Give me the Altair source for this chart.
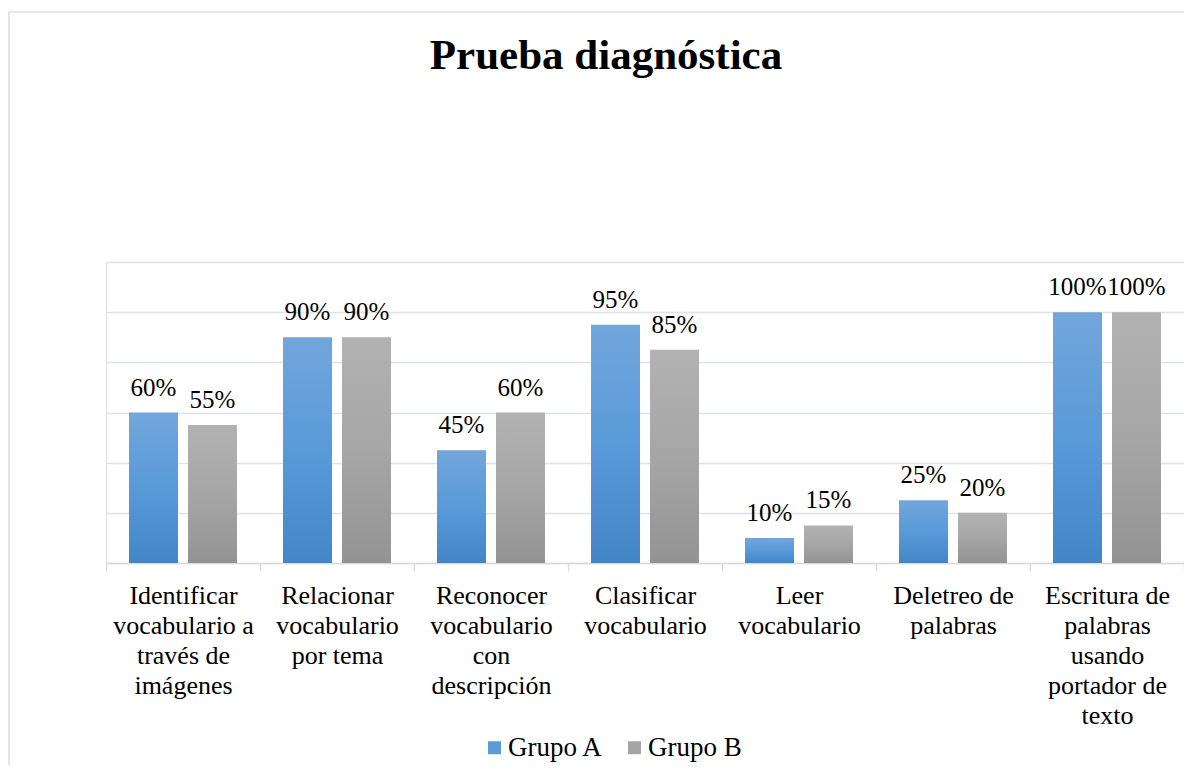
import altair as alt
import pandas as pd

categories = [
    "Identificar\nvocabulario a\ntravés de\nimágenes",
    "Relacionar\nvocabulario\npor tema",
    "Reconocer\nvocabulario\ncon\ndescripción",
    "Clasificar\nvocabulario",
    "Leer\nvocabulario",
    "Deletreo de\npalabras",
    "Escritura de\npalabras\nusando\nportador de\ntexto",
]
grupo_a = [0.60, 0.90, 0.45, 0.95, 0.10, 0.25, 1.00]
grupo_b = [0.55, 0.90, 0.60, 0.85, 0.15, 0.20, 1.00]
groups = ["Grupo A", "Grupo B"]
y_ticks = [0, 0.2, 0.4, 0.6, 0.8, 1.0, 1.2]

rows = []
for c, a, b in zip(categories, grupo_a, grupo_b):
    rows.append({"cat": c, "group": groups[0], "value": a})
    rows.append({"cat": c, "group": groups[1], "value": b})
df = pd.DataFrame(rows)

FONT = "Liberation Serif"
GRID = "#dfe2e7"

grad_a = {"gradient": "linear", "x1": 0, "y1": 0, "x2": 0, "y2": 1,
          "stops": [{"offset": 0, "color": "#72a6db"},
                    {"offset": 0.5, "color": "#599ad9"},
                    {"offset": 1, "color": "#4386c6"}]}
grad_b = {"gradient": "linear", "x1": 0, "y1": 0, "x2": 0, "y2": 1,
          "stops": [{"offset": 0, "color": "#b2b2b2"},
                    {"offset": 0.5, "color": "#a6a6a6"},
                    {"offset": 1, "color": "#939393"}]}

x_enc = alt.X(
    "cat:N", sort=categories,
    scale=alt.Scale(paddingInner=0, paddingOuter=0),
    axis=alt.Axis(
        title=None, labelExpr="split(datum.label, '\\n')", labelAngle=0,
        labelFont=FONT, labelFontSize=26, labelLineHeight=30, labelColor="#000",
        labelPadding=11, labelLimit=400, labelOverlap=False,
        tickBand="extent", tickSize=8, tickColor="#d9d9d9", tickWidth=1.3,
        domainColor="#d9d9d9", domainWidth=1.3, grid=False,
    ),
)
xo_enc = alt.XOffset("group:N", sort=groups,
                     scale=alt.Scale(paddingInner=0.1695, paddingOuter=0.39))
y_enc = alt.Y(
    "value:Q",
    scale=alt.Scale(domain=[0, 1.2], nice=False),
    axis=alt.Axis(title=None, values=y_ticks, labels=False, ticks=False,
                  domain=False, grid=True, gridColor=GRID, gridWidth=1.3),
)

base = alt.Chart(df)

bars = base.mark_bar().encode(
    x=x_enc, xOffset=xo_enc, y=y_enc,
    color=alt.when(alt.datum.group == groups[0]).then(alt.value(grad_a)).otherwise(alt.value(grad_b)),
)

labels = base.mark_text(baseline="alphabetic", dy=-17, font=FONT, fontSize=25, color="#000").encode(
    x=x_enc, xOffset=xo_enc, y=y_enc,
    text=alt.Text("value:Q", format=".0%"),
)

legend_layer = base.mark_square(opacity=0).encode(
    x=x_enc, xOffset=xo_enc, y=y_enc,
    color=alt.Color(
        "group:N", sort=groups,
        scale=alt.Scale(domain=groups, range=["#5b9bd5", "#a5a5a5"]),
        legend=alt.Legend(
            title=None, orient="none", legendX=375, legendY=472, direction="horizontal",
            symbolType="square", symbolSize=169, symbolOpacity=1, symbolStrokeWidth=0,
            labelFont=FONT, labelFontSize=27, labelColor="#000", labelOffset=0,
            columnPadding=17, padding=0,
        ),
    ),
)

frame = alt.Chart(alt.Data(values=[{}])).mark_rect(
    fillOpacity=0, stroke="#dadee4", strokeWidth=1.5
).encode(
    x=alt.value(-97), x2=alt.value(1150), y=alt.value(-250), y2=alt.value(600)
)

chart = alt.layer(frame, bars, labels, legend_layer).properties(
    width=1078, height=301,
    title=alt.TitleParams(
        "Prueba diagnóstica", font=FONT, fontSize=43, fontWeight="bold", color="#000",
        anchor="middle", frame="group", baseline="alphabetic", offset=-101, dx=-39,
    ),
    padding={"left": 98, "top": 254, "right": 0, "bottom": 202},
    autosize=alt.AutoSizeParams(type="none"),
).configure_view(stroke=None).configure(background="#ffffff").configure_text(font=FONT)

chart.save("out.html", embed_options={"renderer": "svg", "actions": False})
